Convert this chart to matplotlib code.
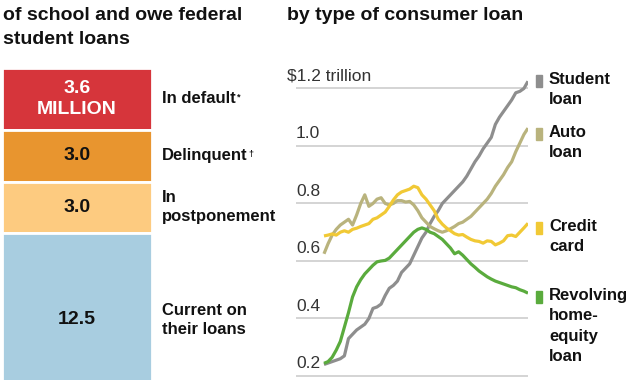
import matplotlib
matplotlib.use('Agg')
import matplotlib.pyplot as plt
import numpy as np
from matplotlib.patches import Rectangle

plt.rcParams['font.family'] = ['Liberation Sans', 'DejaVu Sans']

# left panel: borrowers who left school, millions
status = ['In default', 'Delinquent', 'In\npostponement', 'Current on\ntheir loans']
status_marks = ['*', '\u2020', '', '']
status_vals = [3.6, 3.0, 3.0, 12.5]
status_text = ['3.6\nMILLION', '3.0', '3.0', '12.5']
status_colors = ['#d6353b', '#e8952f', '#fdcb80', '#a8cde0']
status_textcolors = ['white', '#111111', '#111111', '#111111']

# right panel: debt balance by loan type, $ trillion, quarterly 2003Q1 onward
quarters = np.arange(51)
student = [0.24, 0.245, 0.25, 0.255, 0.26, 0.27, 0.33, 0.345, 0.36, 0.37,
           0.38, 0.40, 0.435, 0.44, 0.45, 0.48, 0.505, 0.515, 0.53, 0.56,
           0.575, 0.59, 0.62, 0.65, 0.68, 0.70, 0.73, 0.755, 0.775, 0.80,
           0.815, 0.83, 0.845, 0.86, 0.875, 0.895, 0.92, 0.945, 0.965, 0.99,
           1.01, 1.03, 1.075, 1.10, 1.12, 1.14, 1.16, 1.185, 1.19, 1.20, 1.225]
auto = [0.625, 0.66, 0.69, 0.71, 0.725, 0.735, 0.745, 0.725, 0.76, 0.80,
        0.83, 0.79, 0.80, 0.815, 0.82, 0.80, 0.795, 0.80, 0.81, 0.81,
        0.805, 0.807, 0.795, 0.775, 0.75, 0.735, 0.72, 0.712, 0.705, 0.70,
        0.705, 0.712, 0.72, 0.73, 0.735, 0.745, 0.755, 0.77, 0.785, 0.80,
        0.815, 0.835, 0.86, 0.88, 0.90, 0.925, 0.945, 0.98, 1.01, 1.04, 1.062]
credit = [0.687, 0.69, 0.694, 0.69, 0.70, 0.705, 0.70, 0.71, 0.714, 0.72,
          0.725, 0.73, 0.745, 0.75, 0.76, 0.77, 0.79, 0.812, 0.83, 0.84,
          0.845, 0.85, 0.86, 0.855, 0.83, 0.815, 0.795, 0.775, 0.745, 0.728,
          0.715, 0.705, 0.695, 0.69, 0.692, 0.683, 0.675, 0.67, 0.668, 0.662,
          0.67, 0.668, 0.656, 0.662, 0.67, 0.688, 0.69, 0.685, 0.70, 0.715, 0.731]
heloc = [0.244, 0.25, 0.265, 0.29, 0.32, 0.37, 0.42, 0.475, 0.51, 0.535,
         0.555, 0.57, 0.585, 0.597, 0.60, 0.602, 0.61, 0.625, 0.64, 0.655,
         0.67, 0.685, 0.70, 0.71, 0.715, 0.71, 0.70, 0.695, 0.685, 0.675,
         0.66, 0.645, 0.625, 0.632, 0.62, 0.605, 0.59, 0.578, 0.565, 0.555,
         0.545, 0.537, 0.53, 0.525, 0.52, 0.515, 0.51, 0.507, 0.50, 0.495, 0.488]

series = [('Student\nloan', student, '#8e8e8e'),
          ('Auto\nloan', auto, '#b9b37d'),
          ('Credit\ncard', credit, '#f1c935'),
          ('Revolving\nhome-\nequity\nloan', heloc, '#5aab3d')]
yticks = [0.2, 0.4, 0.6, 0.8, 1.0, 1.2]
ytick_labels = ['0.2', '0.4', '0.6', '0.8', '1.0', '$1.2 trillion']

W, H = 630, 380
fig = plt.figure(figsize=(W / 100, H / 100), dpi=100)

# stacked block, cropped at the bottom like the original
ax1 = fig.add_axes([2 / W, 0, 150 / W, 312 / H])
bottoms = np.concatenate([[0], np.cumsum(status_vals)[:-1]])
ax1.bar(0, status_vals, bottom=bottoms, width=1, color=status_colors,
        edgecolor='white', linewidth=2)
ax1.set_xlim(-0.5, 0.5)
ax1.set_ylim(18.14, 0)
ax1.axis('off')
for lab, mark, v, b, txt, tc in zip(status, status_marks, status_vals, bottoms,
                                    status_text, status_textcolors):
    # the last block runs off the page, so centre its labels higher up
    mid = (b + min(b + v, 19.7)) / 2
    ax1.text(0, mid, txt, ha='center', va='center', color=tc, fontsize=14,
             fontweight='bold', linespacing=1.3)
    t = ax1.text(0.567, mid, lab, ha='left', va='center', fontsize=12,
                 fontweight='bold', color='#111111', linespacing=1.35,
                 clip_on=False)
    if mark:
        ax1.annotate(mark, xy=(1, 1), xycoords=t, xytext=(0.5, -1),
                     textcoords='offset points', fontsize=6.5,
                     fontweight='bold', va='top', ha='left', color='#111111')

# line chart
ax2 = fig.add_axes([296 / W, 0, 232 / W, 320 / H])
ax2.set_xlim(-6.86, 50)
ax2.set_ylim(0.186, 1.299)
for yv in yticks:
    ax2.axhline(yv, color='#c9c9c9', linewidth=1.1, zorder=1)
for yv, lab in zip(yticks, ytick_labels):
    xoff = -0.039 if lab.startswith('$') else 0.0
    ax2.text(xoff, yv + 0.042, lab, transform=ax2.get_yaxis_transform(),
             ha='left', va='center', fontsize=12.5, color='#333333', clip_on=False)
for name, vals, col in series:
    ax2.plot(quarters, vals, color=col, linewidth=2.3, zorder=3,
             solid_capstyle='butt', solid_joinstyle='round')
ax2.axis('off')

# overlay in pixel coordinates for titles and legend keys
ov = fig.add_axes([0, 0, 1, 1], facecolor='none')
ov.set_xlim(0, W)
ov.set_ylim(H, 0)
ov.axis('off')
ov.text(3, 15, 'of school and owe federal', fontsize=14, fontweight='bold',
        ha='left', va='center', color='#111111')
ov.text(3, 40, 'student loans', fontsize=14, fontweight='bold',
        ha='left', va='center', color='#111111')
ov.text(287, 15, 'by type of consumer loan', fontsize=14, fontweight='bold',
        ha='left', va='center', color='#111111')

key_y = [81, 134, 228, 297]
for (name, vals, col), ky in zip(series, key_y):
    ov.add_patch(Rectangle((536, ky - 6), 5.5, 12, color=col))
    ov.text(549, ky - 9, name, fontsize=12, fontweight='bold', ha='left',
            va='top', color='#111111', linespacing=1.45)

fig.savefig('out.png', dpi=100)
